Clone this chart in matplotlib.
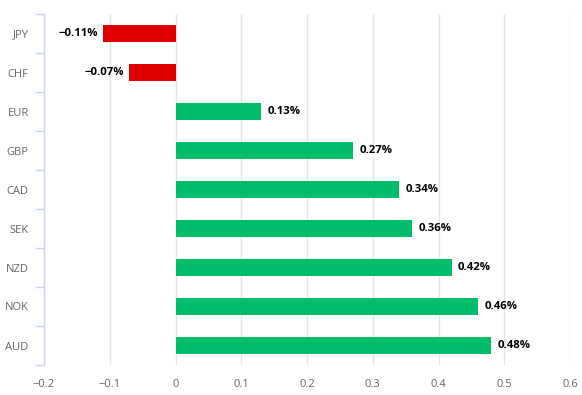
import matplotlib
matplotlib.use("Agg")
import matplotlib.pyplot as plt
import numpy as np

# dane
currencies = ["JPY", "CHF", "EUR", "GBP", "CAD", "SEK", "NZD", "NOK", "AUD"]
changes = [-0.11, -0.07, 0.13, 0.27, 0.34, 0.36, 0.42, 0.46, 0.48]
xticks = [-0.2, -0.1, 0, 0.1, 0.2, 0.3, 0.4, 0.5, 0.6]
xticklabels = ["\u22120.2", "\u22120.1", "0", "0.1", "0.2", "0.3", "0.4", "0.5", "0.6"]

plt.rcParams['font.family'] = ['Open Sans', 'DejaVu Sans']

fig = plt.figure(figsize=(5.82, 3.95), dpi=100)
ax = fig.add_axes([44 / 582, 1 - 365 / 395, (570 - 44) / 582, (365 - 14) / 395])

y = np.arange(len(currencies))
colors = ["#e00000" if v < 0 else "#00bd6c" for v in changes]
ax.barh(y, changes, height=0.46, color=colors, zorder=3)

# etykiety wartości
for yi, v in zip(y, changes):
    txt = ("\u2212%.2f%%" % abs(v)) if v < 0 else ("%.2f%%" % v)
    off = 4.5 if v >= 0 else -4
    ax.annotate(txt, (v, yi), xytext=(off, 0), textcoords="offset points",
                ha="left" if v >= 0 else "right", va="center",
                fontsize=8.2, fontweight="bold", color="#000000")

ax.set_xlim(-0.2, 0.6)
ax.set_ylim(len(currencies) - 0.5, -0.5)
ax.set_xticks(xticks)
ax.set_xticklabels(xticklabels)
ax.set_yticks(y)
ax.set_yticklabels(currencies)
ax.set_yticks(np.arange(-0.5, len(currencies)), minor=True)

ax.grid(axis="x", color="#e6e6e6", linewidth=1, zorder=0)
for s in ["top", "right", "bottom"]:
    ax.spines[s].set_visible(False)
ax.spines["left"].set_color("#ccd6eb")
ax.spines["left"].set_linewidth(1)

ax.tick_params(axis="x", length=0, pad=10, labelsize=8, labelcolor="#666666")
ax.tick_params(axis="y", which="major", length=0, pad=11, labelsize=8, labelcolor="#666666")
ax.tick_params(axis="y", which="minor", length=6.5, color="#ccd6eb", width=1)

fig.savefig("out.png", dpi=100)
